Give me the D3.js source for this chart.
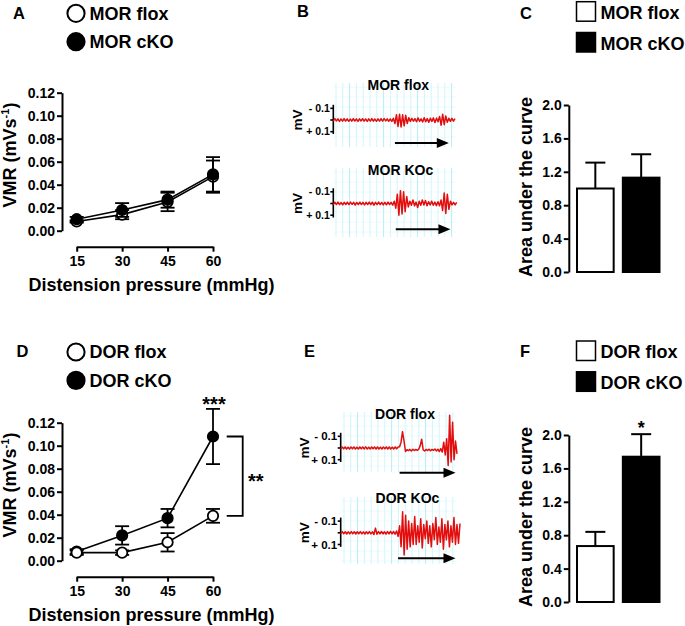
<!DOCTYPE html>
<html><head><meta charset="utf-8">
<script src="https://cdn.jsdelivr.net/npm/d3@7"></script>
<style>
body{margin:0;background:#fff;}
svg{display:block;font-family:"Liberation Sans",Arial,sans-serif;font-weight:bold;}
</style></head><body>
<svg id="c" width="685" height="626"></svg>
<script>
// ---------------- DATA ----------------
const pressures = [15, 30, 45, 60];
const vmrTicks = [0, 0.02, 0.04, 0.06, 0.08, 0.10, 0.12];
const aucTicks = [0, 0.4, 0.8, 1.2, 1.6, 2.0];

const morNames = ["MOR flox", "MOR cKO"];
const morFloxVMR = [0.008, 0.014, 0.025, 0.047];
const morFloxSEM = [0.001, 0.004, 0.008, 0.014];
const morCkoVMR  = [0.010, 0.018, 0.027, 0.049];
const morCkoSEM  = [0.002, 0.006, 0.007, 0.015];

const dorNames = ["DOR flox", "DOR cKO"];
const dorFloxVMR = [0.007, 0.007, 0.016, 0.039];
const dorFloxSEM = [0.002, 0.002, 0.008, 0.006];
const dorCkoVMR  = [0.008, 0.022, 0.037, 0.108];
const dorCkoSEM  = [0.002, 0.008, 0.008, 0.024];

const morAUC    = [1.00, 1.13];
const morAUCsem = [0.31, 0.28];
const dorAUC    = [0.67, 1.74];
const dorAUCsem = [0.17, 0.27];

const traceTitles = ["MOR flox", "MOR KOc", "DOR flox", "DOR KOc"];
const mvTicks = [-0.1, 0, 0.1];
const mvTickLabels = ["- 0.1", "", "+ 0.1"];
const stimOn  = [40, 40, 40, 38];
const stimOff = [75, 75, 78, 76];

const morFloxTrace = [0.010,-0.012,0.008,-0.010,0.012,-0.009,0.010,-0.011,0.009,-0.010,
 0.011,-0.008,0.010,-0.012,0.009,-0.010,0.012,-0.010,0.008,-0.011,
 0.010,-0.009,0.012,-0.010,0.009,-0.012,0.010,-0.008,0.011,-0.010,
 0.009,-0.011,0.010,-0.012,0.008,-0.010,0.011,-0.009,0.012,-0.015,
 0.030,-0.045,0.055,-0.050,0.060,-0.045,0.050,-0.040,0.030,-0.020,
 0.012,-0.014,0.010,-0.012,0.015,-0.018,0.012,-0.010,0.016,-0.020,
 0.014,-0.012,0.020,-0.015,0.012,-0.018,0.022,-0.016,0.015,-0.030,
 0.045,-0.050,0.040,-0.035,0.020,-0.015,0.012,-0.014,0.010,-0.012];
const morKOcTrace = [0.010,-0.011,0.009,-0.012,0.010,-0.008,0.012,-0.010,0.009,-0.011,
 0.010,-0.012,0.008,-0.010,0.013,-0.009,0.010,-0.011,0.009,-0.010,
 0.012,-0.010,0.009,-0.012,0.010,-0.011,0.015,-0.010,0.009,-0.012,
 0.010,-0.009,0.012,-0.010,0.011,-0.012,0.009,-0.010,0.014,-0.020,
 0.040,-0.080,0.100,-0.110,0.090,-0.100,0.070,-0.060,0.030,-0.020,
 0.015,-0.030,0.020,-0.012,0.035,-0.020,0.015,-0.030,0.012,-0.025,
 0.020,-0.015,0.012,-0.020,0.015,-0.012,0.018,-0.015,0.020,-0.030,
 0.060,-0.090,0.085,-0.080,0.050,-0.020,0.012,-0.010,0.012,-0.010];
const dorFloxTrace = [0.008,-0.008,0.007,-0.009,0.008,-0.007,0.009,-0.008,0.007,-0.008,
 0.009,-0.007,0.008,-0.009,0.007,-0.008,0.008,-0.010,0.009,-0.007,
 0.008,-0.009,0.007,-0.008,0.009,-0.008,0.008,-0.007,0.009,-0.008,
 0.007,-0.009,0.008,-0.008,0.009,-0.007,0.008,-0.009,0.007,-0.008,
 -0.010,-0.050,-0.140,-0.060,0.030,0.015,0.022,0.012,0.025,0.010,
 0.022,0.012,0.020,0.010,-0.020,-0.075,0.015,0.025,0.012,0.022,
 0.010,0.024,0.012,0.020,0.008,0.025,0.010,0.030,0.005,0.035,
 -0.050,0.060,-0.080,0.150,-0.280,0.120,-0.220,0.100,-0.060,0.050];
const dorKOcTrace = [0.009,-0.010,0.008,-0.009,0.010,-0.008,0.009,-0.010,0.008,-0.009,
 0.010,-0.009,0.008,-0.010,0.009,-0.008,0.010,-0.009,0.008,-0.010,
 0.009,-0.008,0.015,-0.040,0.012,-0.010,0.009,-0.011,0.010,-0.009,
 0.012,-0.010,0.009,-0.012,0.010,-0.011,0.012,-0.015,0.030,-0.060,
 0.120,-0.180,0.190,-0.150,0.140,-0.100,0.120,-0.080,0.100,-0.140,
 0.100,-0.060,0.080,-0.120,0.130,-0.070,0.050,-0.100,0.090,-0.060,
 0.120,-0.080,0.060,-0.130,0.100,-0.050,0.080,-0.120,0.140,-0.070,
 0.060,-0.100,0.120,-0.060,0.080,-0.130,0.100,-0.070,0.090,-0.080];

// ---------------- DRAW ----------------
const svg = d3.select("#c");
const FONT = "Liberation Sans, Arial, sans-serif";

function styleAxis(a, fs){
  a.attr("font-family", FONT).attr("font-weight", "bold").attr("font-size", fs);
  a.select(".domain").attr("stroke", "#000").attr("stroke-width", 2);
  a.selectAll(".tick line").attr("stroke", "#000").attr("stroke-width", 2);
  a.selectAll(".tick text").attr("fill", "#000");
}

function panelLabel(txt, x, y){
  svg.append("text").attr("x", x).attr("y", y).attr("font-size", 16.5).text(txt);
}

function linePanel(oy, hy, names, floxV, floxS, ckoV, ckoS, floxOnTop, sig){
  const g = svg.append("g").attr("transform", `translate(0,${oy})`);
  const x = d3.scaleLinear().domain([15, 60]).range([76.7, 213]);
  const y = d3.scaleLinear().domain([0, 0.12]).range([230.7, 92.7]);

  const ya = g.append("g").attr("transform", "translate(62,0)")
    .call(d3.axisLeft(y).tickValues(vmrTicks).tickFormat(d3.format(".2f")).tickSize(5).tickSizeOuter(0).tickPadding(2));
  styleAxis(ya, 14);
  const xa = g.append("g").attr("transform", "translate(0,246.7)")
    .call(d3.axisBottom(x).tickValues(pressures).tickSize(5).tickSizeOuter(0).tickPadding(4));
  styleAxis(xa, 14);

  g.append("text").attr("x", 151.5).attr("y", 291).attr("text-anchor", "middle").attr("font-size", 18)
    .text("Distension pressure (mmHg)");
  const yl = g.append("text").attr("transform", "translate(16,155) rotate(-90)").attr("text-anchor", "middle").attr("font-size", 18);
  yl.append("tspan").text("VMR (mVs");
  yl.append("tspan").attr("dy", -7).attr("font-size", 11).text("-1");
  yl.append("tspan").attr("dy", 7).text(")");

  const line = d3.line().x((d, i) => x(pressures[i])).y(d => y(d));
  function series(vals, sems, filled){
    const s = g.append("g");
    s.append("path").datum(vals).attr("d", line).attr("fill", "none").attr("stroke", "#000").attr("stroke-width", 1.6);
    pressures.forEach((p, i) => {
      const cx = x(p), lo = y(vals[i] - sems[i]), hi = y(vals[i] + sems[i]);
      s.append("line").attr("x1", cx).attr("x2", cx).attr("y1", lo).attr("y2", hi).attr("stroke", "#000").attr("stroke-width", 1.8);
      [lo, hi].forEach(yy => s.append("line").attr("x1", cx - 7).attr("x2", cx + 7).attr("y1", yy).attr("y2", yy).attr("stroke", "#000").attr("stroke-width", 1.8));
    });
    s.selectAll("circle").data(vals).join("circle")
      .attr("cx", (d, i) => x(pressures[i])).attr("cy", d => y(d)).attr("r", 5.2)
      .attr("fill", filled ? "#000" : "#fff").attr("stroke", "#000").attr("stroke-width", 1.8);
  }
  if (floxOnTop){ series(ckoV, ckoS, true); series(floxV, floxS, false); }
  else { series(floxV, floxS, false); series(ckoV, ckoS, true); }

  // legend
  const ly = [13.3 + hy, 41.7 + hy];
  [0, 1].forEach(k => {
    g.append("circle").attr("cx", 76).attr("cy", ly[k]).attr("r", 8.6)
      .attr("fill", k ? "#000" : "#fff").attr("stroke", "#000").attr("stroke-width", 2);
    g.append("text").attr("x", 89.5).attr("y", ly[k] + 6.2).attr("font-size", 18).text(names[k]);
  });

  if (sig){
    const x60 = x(60);
    const top = ckoV[3] + ckoS[3];
    g.append("text").attr("x", x60 + 1).attr("y", y(top) + 2.5).attr("text-anchor", "middle").attr("font-size", 20).text("***");
    const bx = x60 + 29.7, y1 = y(ckoV[3]), y2 = y(floxV[3]);
    g.append("path").attr("d", `M${x60 + 13.7},${y1}H${bx}V${y2}H${x60 + 13.7}`)
      .attr("fill", "none").attr("stroke", "#000").attr("stroke-width", 1.8);
    g.append("text").attr("x", bx + 13).attr("y", (y1 + y2) / 2 + 11.5).attr("text-anchor", "middle").attr("font-size", 20).text("**");
  }
}

function barPanel(oy, hy, names, vals, sems, star){
  const g = svg.append("g").attr("transform", `translate(0,${oy})`);
  const y = d3.scaleLinear().domain([0, 2]).range([272, 105]);
  const x = d3.scaleBand().domain(names).range([577, 659.5]).paddingInner(0.2).paddingOuter(0);
  const ya = g.append("g").attr("transform", "translate(568.8,0)")
    .call(d3.axisLeft(y).tickValues(aucTicks).tickFormat(d3.format(".1f")).tickSize(5).tickSizeOuter(0).tickPadding(2));
  styleAxis(ya, 14);
  g.append("text").attr("transform", "translate(532,187) rotate(-90)").attr("text-anchor", "middle").attr("font-size", 18)
    .text("Area under the curve");
  names.forEach((n, i) => {
    const cx = x(n) + x.bandwidth() / 2;
    g.append("line").attr("x1", cx).attr("x2", cx).attr("y1", y(vals[i])).attr("y2", y(vals[i] + sems[i])).attr("stroke", "#000").attr("stroke-width", 2);
    g.append("line").attr("x1", cx - 10).attr("x2", cx + 10).attr("y1", y(vals[i] + sems[i])).attr("y2", y(vals[i] + sems[i])).attr("stroke", "#000").attr("stroke-width", 2);
  });
  g.selectAll("rect.bar").data(vals).join("rect").attr("class", "bar")
    .attr("x", (d, i) => x(names[i])).attr("width", x.bandwidth())
    .attr("y", d => y(d)).attr("height", d => y(0) - y(d))
    .attr("fill", (d, i) => i ? "#000" : "#fff").attr("stroke", "#000").attr("stroke-width", 2);
  // legend
  const sy = [1.7 + hy, 32.5 + hy];
  [0, 1].forEach(k => {
    g.append("rect").attr("x", 576.5).attr("y", sy[k]).attr("width", 19).attr("height", 19.5)
      .attr("fill", k ? "#000" : "#fff").attr("stroke", "#000").attr("stroke-width", 1.5);
    g.append("text").attr("x", 600.5).attr("y", sy[k] + 17).attr("font-size", 18).text(names[k]);
  });
  if (star){
    const cx = x(names[1]) + x.bandwidth() / 2;
    g.append("text").attr("x", cx).attr("y", y(vals[1] + sems[1])).attr("text-anchor", "middle").attr("font-size", 18).text("*");
  }
}

const traceLayouts = [
  {data: morFloxTrace, x0: 333.3, x1: 455, base: 120, axisX: 333.3, mvX: 297, tx: 398.3, ty: 90, gl: 333, gr: 456, gt: 83, gb: 147, ay: 143, tfs: 10.5},
  {data: morKOcTrace, x0: 333.3, x1: 456.7, base: 203.5, axisX: 333.3, mvX: 297, tx: 400.5, ty: 174.5, gl: 333, gr: 456, gt: 168, gb: 237, ay: 229.3, tfs: 10.5},
  {data: dorFloxTrace, x0: 340.7, x1: 457, base: 448, axisX: 340.7, mvX: 303.5, tx: 405, ty: 418.5, gl: 341, gr: 457, gt: 412, gb: 472, ay: 472.7, tfs: 11.5},
  {data: dorKOcTrace, x0: 340.7, x1: 460, base: 532.8, axisX: 340.7, mvX: 303.5, tx: 407.5, ty: 503, gl: 341, gr: 457, gt: 497, gb: 564, ay: 558.3, tfs: 11.5}
];

function tracePanel(L, k){
  const g = svg.append("g");
  const x = d3.scaleLinear().domain([0, L.data.length - 1]).range([L.x0, L.x1]);
  const y = d3.scaleLinear().domain([-0.1, 0.1]).range([L.base - 11.7, L.base + 11.7]);
  // grid
  d3.range(L.gt + 4, L.gb, 10).forEach(yy => g.append("line").attr("x1", L.gl).attr("x2", L.gr).attr("y1", yy).attr("y2", yy).attr("stroke", "#eafbfd").attr("stroke-width", 1));
  d3.range(L.gl + 3, L.gr, 6.8).forEach((xx, j) => g.append("line").attr("x1", xx).attr("x2", xx).attr("y1", L.gt).attr("y2", L.gb)
    .attr("stroke", j % 5 === 2 ? "#b5eef6" : "#d2f5fa").attr("stroke-width", 1));
  // title
  g.append("text").attr("x", L.tx).attr("y", L.ty).attr("text-anchor", "middle").attr("font-size", 14).text(traceTitles[k]);
  // axis
  g.append("line").attr("x1", L.axisX).attr("x2", L.axisX).attr("y1", y(-0.13)).attr("y2", y(0.12)).attr("stroke", "#000").attr("stroke-width", 1.6);
  mvTicks.forEach((t, i) => {
    g.append("line").attr("x1", L.axisX - 3).attr("x2", L.axisX).attr("y1", y(t)).attr("y2", y(t)).attr("stroke", "#000").attr("stroke-width", 1.6);
    if (mvTickLabels[i]) g.append("text").attr("x", L.axisX - 3.5).attr("y", y(t)).attr("dy", "0.35em").attr("text-anchor", "end")
      .attr("font-size", L.tfs).text(mvTickLabels[i]);
  });
  g.append("text").attr("transform", `translate(${L.mvX + 5},${L.base}) rotate(-90)`).attr("text-anchor", "middle").attr("font-size", 13.5).text("mV");
  // trace
  g.append("path").datum(L.data).attr("d", d3.line().x((d, i) => x(i)).y(d => y(d)))
    .attr("fill", "none").attr("stroke", "#e30d0d").attr("stroke-width", 1.5).attr("stroke-linejoin", "round");
  // arrow
  const xa = x(stimOn[k]), xb = x(stimOff[k]);
  g.append("line").attr("x1", xa).attr("x2", xb - 10).attr("y1", L.ay).attr("y2", L.ay).attr("stroke", "#000").attr("stroke-width", 2);
  g.append("path").attr("d", `M${xb - 12},${L.ay - 5}L${xb},${L.ay}L${xb - 12},${L.ay + 5}Z`).attr("fill", "#000");
}

// Row 1
panelLabel("A", 13, 18.5);
panelLabel("B", 297, 17);
panelLabel("C", 520, 18.5);
linePanel(0, 0, morNames, morFloxVMR, morFloxSEM, morCkoVMR, morCkoSEM, false, false);
barPanel(0, 0, morNames, morAUC, morAUCsem, false);
// Row 2
panelLabel("D", 16.5, 357);
panelLabel("E", 304, 356.5);
panelLabel("F", 520, 357);
linePanel(330, 8.7, dorNames, dorFloxVMR, dorFloxSEM, dorCkoVMR, dorCkoSEM, true, true);
barPanel(330, 9.3, dorNames, dorAUC, dorAUCsem, true);

traceLayouts.forEach((L, k) => tracePanel(L, k));
</script>
</body></html>
